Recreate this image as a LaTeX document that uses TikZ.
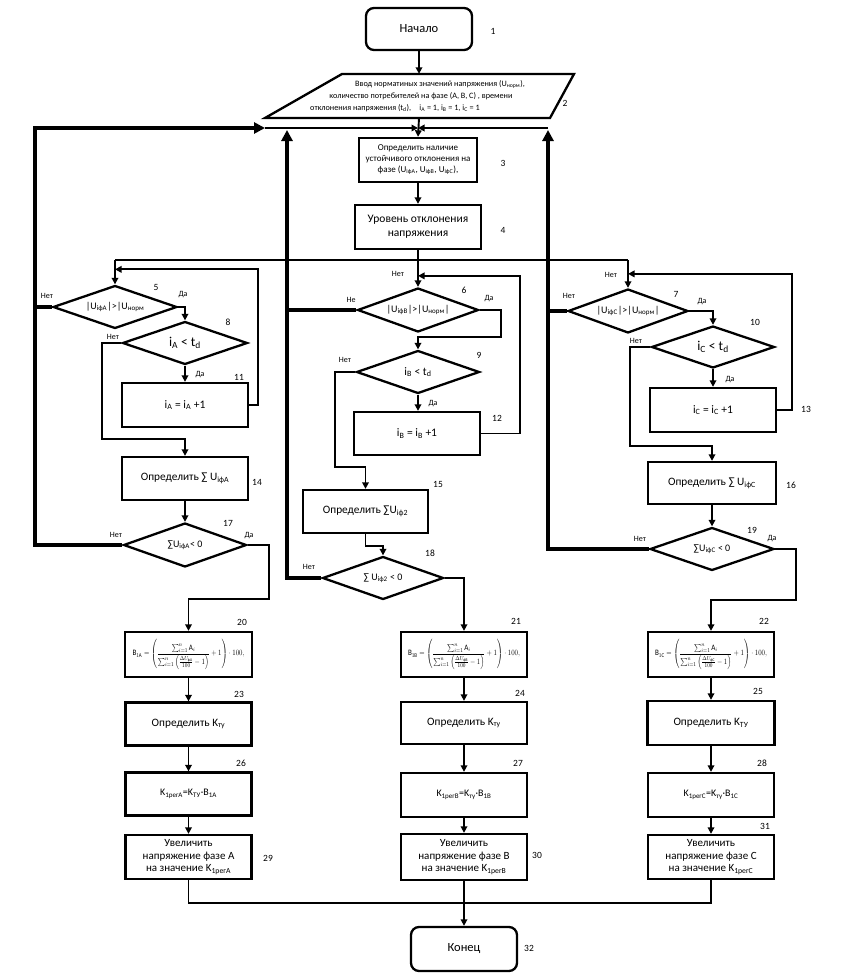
\documentclass[tikz,border=0pt]{standalone}
\usepackage{fontspec}
\usepackage{amsmath}
\usepackage{graphicx}
\setmainfont{Carlito}
\usetikzlibrary{shapes.geometric,arrows.meta,calc}
\newcommand{\frmB}[1]{\resizebox*{112pt}{30pt}{$\mathrm{B}_{1\mathrm{#1}}=\left(\dfrac{\sum\nolimits_{i=1}^{n}\mathrm{A}_{i}}{\sum\nolimits_{i=1}^{n}\left(\frac{\Delta U_{\text{ф#1}}}{100}-1\right)}+1\right)\cdot 100,$}}
\newcommand{\sbs}[1]{\textsubscript{#1}}
\tikzset{
  ln/.style={line width=1.9pt},
  arr/.style={line width=1.9pt,-{Triangle[length=6.5pt,width=6.5pt]}},
  thk/.style={line width=4.4pt},
  thkarr/.style={line width=4.4pt,-{Triangle[length=11pt,width=11pt]}},
  proc/.style={draw,line width=2.3pt,inner sep=1pt,align=center,font=\fontsize{11.3}{13.5}\selectfont},
  term/.style={draw,line width=2.3pt,rounded corners=8pt,inner sep=0pt,font=\fontsize{12.5}{14}\selectfont},
  dec/.style={draw,diamond,line width=2.3pt,inner sep=0pt,shape aspect=2.8,font=\fontsize{10}{12}\selectfont},
  bigt/.style={font=\fontsize{13.5}{15}\selectfont},
  num/.style={font=\fontsize{9.5}{11}\selectfont},
  yn/.style={font=\fontsize{8}{9}\selectfont},
}
\begin{document}
\begin{tikzpicture}[x=1pt,y=-1pt]
\useasboundingbox (0,0) rectangle (861,979);
% ---------- top ----------
\node[term,minimum width=106,minimum height=42] (s) at (419,29) {Начало};
\node[minimum width=285,minimum height=44,inner sep=0pt] (p2) at (419,96) {};
\draw[line width=2.3pt] (265,118) -- (342,74) -- (574,74) -- (550,118) -- cycle;
\node[font=\fontsize{8.2}{9}\selectfont] (p2a) at (440,84) {Ввод норматиных значений напряжения (U\sbs{норм}),};
\node[font=\fontsize{8.2}{9}\selectfont] (p2b) at (421,96) {количество потребителей на фазе (A, B, C) , времени};
\node[font=\fontsize{8.2}{9}\selectfont] (p2c) at (395,108) {отклонения напряжения (t\sbs{d}),\quad i\sbs{A} = 1, i\sbs{B} = 1, i\sbs{C} = 1};
\node[proc,minimum width=118,minimum height=44,font=\fontsize{9}{11}\selectfont] (b3) at (418,160) {Определить наличие\\устойчивого отклонения на\\фазе (U\sbs{iфA}, U\sbs{iфB}, U\sbs{iфC}),};
\node[proc,minimum width=126,minimum height=44,font=\fontsize{11.5}{14}\selectfont] (b4) at (418,227) {Уровень отклонения\\напряжения};
% ---------- left column ----------
\node[dec,minimum width=124,minimum height=43] (d5) at (115,307) {|U\sbs{iфA}|>|U\sbs{норм}};
\node[dec,minimum width=125,minimum height=43,bigt] (d8) at (185,343) {i\sbs{A} < t\sbs{d}};
\node[proc,minimum width=126,minimum height=44,font=\fontsize{11.5}{13}\selectfont] (b11) at (185,405) {i\sbs{A} = i\sbs{A} +1};
\node[proc,minimum width=126,minimum height=43] (b14) at (185,478.5) {Определить ∑ U\sbs{iфA}};
\node[dec,minimum width=123,minimum height=44] (d17) at (185,545) {∑U\sbs{iфA}< 0};
\node[proc,minimum width=127,minimum height=45,inner sep=2pt] (b20) at (188.5,654.5) {\frmB{A}};
\node[proc,minimum width=126,minimum height=43] (b23) at (188.5,724) {Определить K\sbs{ту}};
\node[proc,minimum width=126,minimum height=43,font=\fontsize{10}{12}\selectfont] (b26) at (188.5,794) {K\sbs{1регА}=K\sbs{ТУ}·B\sbs{1А}};
\node[proc,minimum width=126,minimum height=44,font=\fontsize{11}{12.5}\selectfont] (b29) at (188.5,857) {Увеличить\\напряжение фазе А\\на значение K\sbs{1регА}};
% ---------- middle column ----------
\node[dec,minimum width=121,minimum height=44] (d6) at (418,310) {|U\sbs{iфB}|>|U\sbs{норм}|};
\node[dec,minimum width=123,minimum height=43,font=\fontsize{11.5}{13}\selectfont] (d9) at (418,372) {i\sbs{B} < t\sbs{d}};
\node[proc,minimum width=126,minimum height=43,font=\fontsize{11.5}{13}\selectfont] (b12) at (417,433.5) {i\sbs{B} = i\sbs{B} +1};
\node[proc,minimum width=125,minimum height=43] (b15) at (365.5,511.5) {Определить ∑U\sbs{iф2}};
\node[dec,minimum width=121,minimum height=43] (d18) at (383,578) {∑ U\sbs{iф2} < 0};
\node[proc,minimum width=126,minimum height=45,inner sep=2pt] (b21) at (464,654.5) {\frmB{B}};
\node[proc,minimum width=126,minimum height=42] (b24) at (464,723) {Определить K\sbs{ту}};
\node[proc,minimum width=126,minimum height=44,font=\fontsize{10}{12}\selectfont] (b27) at (464,795) {K\sbs{1регВ}=K\sbs{ту}·B\sbs{1В}};
\node[proc,minimum width=126,minimum height=46,font=\fontsize{11}{12.5}\selectfont] (b30) at (464,857) {Увеличить\\напряжение фазе В\\на значение K\sbs{1регВ}};
\node[term,minimum width=106,minimum height=44] (e) at (464,949) {Конец};
% ---------- right column ----------
\node[dec,minimum width=120,minimum height=44] (d7) at (628,311) {|U\sbs{iфС}|>|U\sbs{норм}|};
\node[dec,minimum width=123,minimum height=42,bigt] (d10) at (713,347) {i\sbs{C} < t\sbs{d}};
\node[proc,minimum width=126,minimum height=44,font=\fontsize{11.5}{13}\selectfont] (b13) at (713,410) {i\sbs{C} = i\sbs{C} +1};
\node[proc,minimum width=128,minimum height=42] (b16) at (712,483) {Определить ∑ U\sbs{iфC}};
\node[dec,minimum width=124,minimum height=43] (d19) at (712,549) {∑U\sbs{iфC} < 0};
\node[proc,minimum width=126,minimum height=45,inner sep=2pt] (b22) at (711,654.5) {\frmB{C}};
\node[proc,minimum width=127,minimum height=44] (b25) at (711,723) {Определить K\sbs{ТУ}};
\node[proc,minimum width=126,minimum height=44,font=\fontsize{10}{12}\selectfont] (b28) at (711,795) {K\sbs{1регС}=K\sbs{ту}·B\sbs{1С}};
\node[proc,minimum width=126,minimum height=44,font=\fontsize{11}{12.5}\selectfont] (b31) at (711,857) {Увеличить\\напряжение фазе С\\на значение K\sbs{1регС}};
% ---------- coordinates ----------
\coordinate (tl) at (35,128);
\coordinate (ta) at (265,128);
\coordinate (tc) at (418,128);
\coordinate (tm) at (287,130);
\coordinate (tr) at (548,128);
\coordinate (trh) at (548,130);
\coordinate (jt) at (418,260);
\coordinate (bj) at (464,903);
% ---------- connectors: top ----------
\draw[arr] (s.south) -- (p2.north);
\draw[arr] (p2.south) -- (b3.north);
\draw[arr] (b3.south) -- (b4.south |- b4.north);
\draw[arr] (b4.south) -- (d6.north);
\draw[ln] (jt -| d5.north) -- (jt -| d7.north);
\draw[arr] (jt -| d5.north) -- (d5.north);
\draw[arr] (jt -| d7.north) -- (d7.north);
% thick return loops
\draw[thkarr] (d17.west) -| (tl) -- (ta);
\draw[arr,line width=2.2pt] (ta) -- (tc);
\draw[thkarr] (d18.west) -| (tm);
\draw[thkarr] (d19.west) -| (trh);
\draw[arr,line width=2.2pt] (tr) -- (tc);
\draw[thk] (d5.west) -- (d5.west -| tl);
\draw[thk] (d6.west) -- (d6.west -| tm);
\draw[thk] (d7.west) -- (d7.west -| tr);
% inner loops
\draw[arr] (b11.east) -- ++(9,0) |- ($(d5.north)+(0,-15)$);
\draw[arr] (b12.east) -- ++(39,0) |- ($(d6.north)+(0,-11)$);
\draw[arr] (b13.east) -- ++(15,0) |- ($(d7.north)+(0,-14)$);
% yes branches
\draw[arr] (d5.east) -| (d8.north);
\draw[arr] (d6.east) -- ++(21,0) |- ($(d9.north)+(0,-12)$) -- (d9.north);
\draw[arr] (d7.east) -| (d10.north);
\draw[arr] (d8.south) -- (d8.south |- b11.north);
\draw[arr] (d9.south) -- (d9.south |- b12.north);
\draw[arr] (d10.south) -- (d10.south |- b13.north);
% no branches
\draw[arr] (d8.west) -- ++(-19,0) |- ($(b14.north)+(0,-17)$) -- (b14.north);
\draw[arr] (d9.west) -- ++(-20,0) |- ($(b15.north)+(0,-22)$) -- (b15.north);
\draw[arr] (d10.west) -- ++(-20,0) |- ($(b16.north)+(0,-15)$) -- (b16.north);
\draw[arr] (b14.south) -- (d17.north);
\draw[arr] (b15.south) -- ++(0,12) -| (d18.north);
\draw[arr] (b16.south) -- (d19.north);
\draw[arr] (d17.east) -- ++(21,0) |- ($(b20.north)+(0,-32)$) -- (b20.north);
\draw[arr] (d18.east) -| (b21.north);
\draw[arr] (d19.east) -- ++(21,0) |- ($(b22.north)+(0,-31)$) -- (b22.north);
% lower chains
\draw[arr] (b20.south) -- (b23.north);
\draw[arr] (b23.south) -- (b26.north);
\draw[arr] (b26.south) -- (b29.north);
\draw[arr] (b21.south) -- (b24.north);
\draw[arr] (b24.south) -- (b27.north);
\draw[arr] (b27.south) -- (b30.north);
\draw[arr] (b22.south) -- (b25.north);
\draw[arr] (b25.south) -- (b28.north);
\draw[arr] (b28.south) -- (b31.north);
\draw[ln] (b29.south) -- (b29.south |- bj) -- (b31.south |- bj) -- (b31.south);
\draw[arr] (b30.south) -- (e.north);
% ---------- numbers ----------
\foreach \t/\x/\y in {1/493/31,2/565/103,3/503/163,4/503/230,5/156/287,8/228/322,11/239/377,6/464/290,9/479/355,12/497/418,7/676/294,10/755/322,13/806/409,14/257/482,17/228/523,15/438/484,18/430/553,16/791/485,19/752/530,20/242/622,21/516/621,22/764/621,23/239/694,24/520/693,25/758/691,26/241/763,27/518/763,28/762/763,29/268/858,30/537/855,31/765/826,32/529/948}
  \node[num] (n\t) at (\x,\y) {\t};
% ---------- yes / no ----------
\foreach \k/\t/\x/\y in {a/Нет/47/296,b/Да/183/295,c/Нет/113/337,d/Да/200/375,e/Нет/398/274,f/Не/351/300,g/Да/489/299,h/Нет/345/360,i/Да/433/404,j/Нет/611/275,k/Нет/569/296,l/Да/702/302,m/Нет/636/341,n/Да/730/380,o/Нет/116/535,p/Да/249/536,q/Нет/309/567,r/Нет/640/539,s/Да/772/539}
  \node[yn] (y\k) at (\x,\y) {\t};
\end{tikzpicture}
\end{document}
